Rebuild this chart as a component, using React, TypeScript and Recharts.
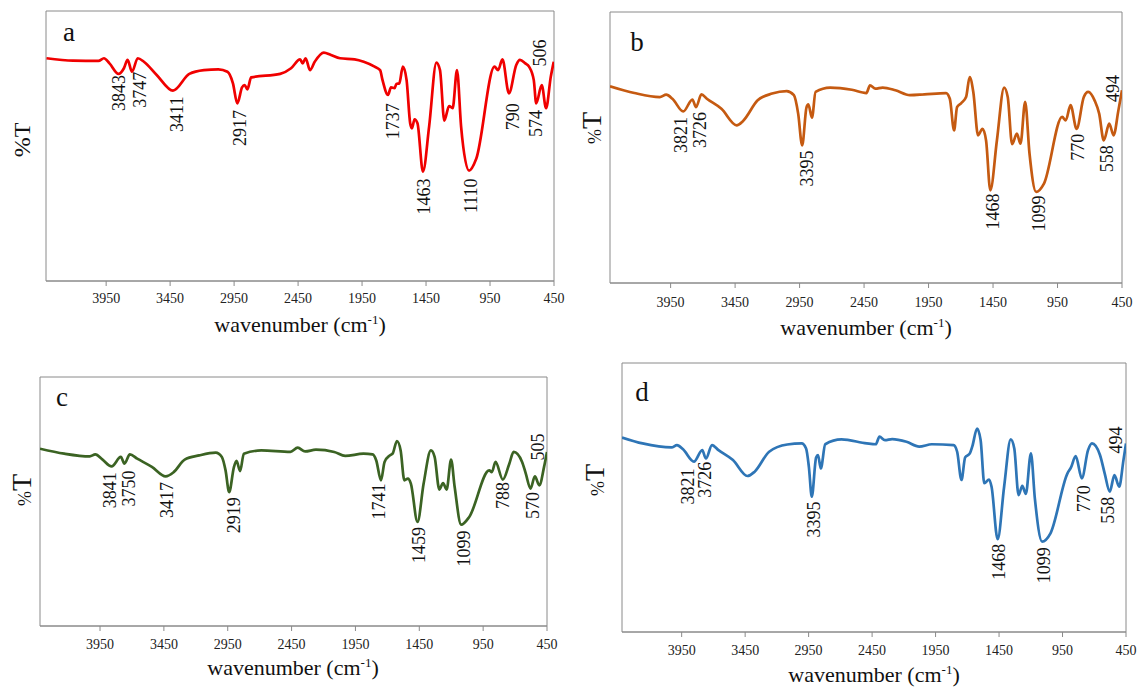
import React from 'react';
import { LineChart, Line, XAxis, YAxis, ReferenceArea, ReferenceDot } from 'recharts';

// wavenumber (cm-1), %T (relative units)
const specA: [number, number][] = [
  [4416,82.5],[4208,81.6],[4010,81.5],[3967,82.5],[3924,80.6],[3853,76.7],[3811,78.8],[3782,81.9],[3748,77.5],[3703,82.5],
  [3655,81.2],[3555,76.3],[3428,70.5],[3300,76.7],[3186,78.1],[3073,78.4],[3002,77.5],[2959,73.2],[2925,65.8],[2888,71.7],
  [2868,72.6],[2846,71.0],[2817,75.4],[2590,76.7],[2505,78.8],[2434,82.1],[2414,80.6],[2391,82.5],[2357,78.1],[2320,81.2],
  [2249,84.6],[2193,83.7],[2122,82.5],[2008,82.1],[1937,81.2],[1852,79.4],[1809,78.1],[1790,74.4],[1747,68.9],[1724,71.7],
  [1696,71.4],[1682,73.0],[1659,73.2],[1631,79.4],[1602,74.4],[1574,58.4],[1560,56.5],[1540,59.9],[1517,58.4],[1474,40.5],
  [1426,57.2],[1369,80.9],[1341,78.1],[1307,59.4],[1270,64.8],[1242,64.0],[1208,78.1],[1176,57.2],[1114,40.9],[1057,45.4],
  [915,79.4],[887,78.1],[853,82.1],[802,69.5],[745,80.0],[716,81.9],[674,80.6],[645,79.4],[608,74.4],[589,65.8],
  [546,72.6],[512,64.0],[475,75.7],[452,81.2],
];
const specB: [number, number][] = [
  [4420,72.6],[4231,70.1],[4034,68.6],[3984,69.5],[3936,68.0],[3852,63.3],[3781,67.7],[3753,64.9],[3711,69.6],[3669,68.0],
  [3556,64.3],[3438,58.2],[3388,59.8],[3275,67.4],[3163,69.9],[3050,70.8],[2994,69.3],[2961,62.5],[2930,50.8],[2896,64.9],
  [2882,65.9],[2854,61.0],[2826,70.5],[2713,72.1],[2545,71.3],[2432,70.1],[2404,72.9],[2362,71.7],[2306,72.1],[2207,71.1],
  [2095,69.3],[1982,69.6],[1814,70.1],[1785,68.0],[1752,56.3],[1729,64.9],[1696,66.4],[1659,68.6],[1631,76.0],[1603,70.5],
  [1566,54.5],[1532,56.9],[1504,52.6],[1471,34.2],[1420,52.6],[1364,72.1],[1336,68.6],[1302,51.2],[1265,55.1],[1237,51.4],
  [1201,66.8],[1167,47.7],[1116,33.6],[1055,36.7],[914,61.3],[886,60.0],[849,65.6],[802,56.9],[746,68.6],[712,70.5],
  [661,67.2],[627,62.5],[591,52.6],[549,58.8],[515,54.5],[478,63.7],[450,71.1],
];
const specC: [number, number][] = [
  [4420,71.2],[4230,69.2],[4030,68.1],[3987,68.9],[3930,66.8],[3859,64.1],[3787,67.9],[3759,65.2],[3716,68.9],[3659,67.2],
  [3544,63.9],[3436,60.1],[3373,61.8],[3287,66.8],[3173,68.5],[3044,69.6],[2996,67.9],[2967,62.5],[2939,53.8],[2901,63.9],
  [2881,66.3],[2853,62.2],[2824,69.2],[2687,70.5],[2459,69.9],[2402,71.6],[2344,70.1],[2259,70.8],[2116,69.9],[2030,68.3],
  [1887,69.2],[1816,68.9],[1787,66.5],[1750,58.5],[1722,65.9],[1681,68.5],[1659,69.2],[1625,74.3],[1596,70.5],[1567,58.5],
  [1539,59.2],[1516,57.2],[1464,41.8],[1416,57.2],[1359,70.5],[1330,67.9],[1293,54.8],[1264,57.4],[1236,54.8],[1201,66.8],
  [1173,55.8],[1122,40.7],[1059,43.8],[902,62.5],[882,61.8],[853,65.9],[796,58.8],[745,65.2],[711,69.9],[645,65.9],
  [616,61.2],[579,55.2],[545,60.1],[510,56.5],[473,63.9],[450,69.9],
];
const specD: [number, number][] = [
  [4420,72.3],[4258,70.1],[4030,68.6],[3987,69.5],[3939,67.9],[3853,63.3],[3788,67.6],[3759,64.5],[3711,69.5],[3660,67.6],
  [3546,63.9],[3432,58.0],[3375,59.6],[3261,67.0],[3118,69.7],[3005,70.1],[2970,68.2],[2948,61.4],[2925,50.3],[2891,64.9],
  [2876,65.8],[2854,60.8],[2819,69.8],[2691,71.6],[2492,70.1],[2421,69.8],[2392,72.6],[2349,71.3],[2292,71.7],[2179,70.7],
  [2079,68.9],[1979,69.8],[1808,69.5],[1780,67.0],[1746,56.5],[1717,64.9],[1680,66.4],[1660,69.1],[1623,75.6],[1595,71.3],
  [1566,55.3],[1529,56.7],[1509,54.0],[1461,34.5],[1410,54.0],[1358,71.6],[1330,68.2],[1296,50.9],[1267,54.3],[1239,51.3],
  [1199,66.4],[1168,49.7],[1111,33.6],[1045,36.7],[911,59.0],[883,61.2],[846,65.4],[798,57.1],[749,67.6],[718,70.1],
  [655,65.8],[618,59.0],[578,52.2],[541,58.3],[504,54.0],[470,63.9],[450,70.1],
];

// peak annotations: text, wavenumber, %T level, whether text goes up from that level
const peaksA: [string, number, number, boolean][] = [
  ['3843',3853,76.3,false],['3747',3689,77.5,false],['3411',3399,68.3,false],['2917',2902,63.3,false],
  ['1737',1710,65.8,false],['1463',1469,38.0,false],['1110',1100,38.0,false],['790',773,65.8,false],
  ['574',594,63.3,false],['506',560,79.4,true],
];
const peaksB: [string, number, number, boolean][] = [
  ['3821',3866,61.3,false],['3726',3720,63.1,false],['3395',2896,48.9,false],['1468',1454,33.0,false],
  ['1099',1097,32.3,false],['770',788,55.1,false],['558',563,50.8,false],['494',521,66.8,true],
];
const peaksC: [string, number, number, boolean][] = [
  ['3841',3873,61.8,false],['3750',3724,62.5,false],['3417',3424,57.8,false],['2919',2901,51.7,false],
  ['1741',1764,57.2,false],['1459',1453,39.8,false],['1099',1102,38.4,false],['788',793,57.8,false],
  ['570',559,53.8,false],['505',522,66.5,true],
];
const peaksD: [string, number, number, boolean][] = [
  ['3821',3902,60.8,false],['3726',3768,63.3,false],['3395',2905,48.5,false],['1468',1447,32.8,false],
  ['1099',1096,31.5,false],['770',777,54.6,false],['558',589,50.3,false],['494',532,66.4,true],
];

const xTicks = [3950, 3450, 2950, 2450, 1950, 1450, 950, 450];
const X_MIN = 450;
const X_MAX = 4420;

const SERIF = "'Liberation Serif', 'Times New Roman', serif";
const FRAME = '#8a8a8a';

type PanelProps = {
  spec: [number, number][];
  peaks: [string, number, number, boolean][];
  color: string;
  left: number; top: number; width: number; height: number;
  margin: { left: number; right: number; top: number; bottom: number };
  tickMargin: number;
};

function TickText(props: any) {
  const { x, y, payload } = props;
  return (
    <text x={x} y={y} dy="0.71em" textAnchor="middle" fill="#222" style={{ fontFamily: SERIF, fontSize: 14 }}>
      {payload.value}
    </text>
  );
}

function Panel(p: PanelProps) {
  const data = p.spec.map(([w, t]) => ({ w, t }));
  return (
    <div style={{ position: 'absolute', left: p.left, top: p.top }}>
      <LineChart width={p.width} height={p.height} data={data} margin={p.margin}>
        <XAxis
          dataKey="w" type="number" domain={[X_MIN, X_MAX]} reversed allowDataOverflow
          ticks={xTicks} interval={0} height={30} tickSize={5} tickMargin={p.tickMargin}
          tick={<TickText />}
          tickLine={{ stroke: FRAME }} axisLine={{ stroke: FRAME }}
        />
        <YAxis hide domain={[0, 100]} allowDataOverflow />
        <ReferenceArea x1={X_MIN} x2={X_MAX} y1={0} y2={100} fill="none" fillOpacity={0} stroke={FRAME} strokeWidth={1} ifOverflow="visible" />
        <Line type="monotone" dataKey="t" stroke={p.color} strokeWidth={2.7} dot={false} isAnimationActive={false} />
        {p.peaks.map(([txt, w, v, up]) => (
          <ReferenceDot
            key={txt + w} x={w} y={v} r={0} ifOverflow="visible"
            shape={(sp: any) => (
              <text
                x={sp.cx} y={sp.cy} transform={`rotate(-90 ${sp.cx} ${sp.cy})`}
                textAnchor={up ? 'start' : 'end'} dominantBaseline="central"
                fill="#111" style={{ fontFamily: SERIF, fontSize: 18 }}
              >{txt}</text>
            )}
          />
        ))}
      </LineChart>
    </div>
  );
}

const abs = (x: number, y: number, extra: React.CSSProperties = {}): React.CSSProperties => ({
  position: 'absolute', left: x, top: y, transform: 'translate(-50%, -50%)', whiteSpace: 'nowrap',
  fontFamily: SERIF, color: '#111', lineHeight: 1, ...extra,
});

function Title({ x, y }: { x: number; y: number }) {
  return (
    <div style={abs(x, y, { fontSize: 22 })}>
      wavenumber (cm<sup style={{ fontSize: 13, verticalAlign: 'super', lineHeight: 0 }}>-1</sup>)
    </div>
  );
}

function YLab({ x, y, small }: { x: number; y: number; small: boolean }) {
  return (
    <div style={abs(x, y, { transform: 'translate(-50%, -50%) rotate(-90deg)' })}>
      {small ? (
        <span><span style={{ fontSize: 18 }}>%</span><span style={{ fontSize: 28 }}>T</span></span>
      ) : (
        <span style={{ fontSize: 24 }}>%T</span>
      )}
    </div>
  );
}

export default function App() {
  return (
    <div style={{ position: 'absolute', left: 0, top: 0, width: 1137, height: 688, background: '#fff', overflow: 'hidden' }}>
      <Panel spec={specA} peaks={peaksA} color="#f00000" left={0} top={0} width={580} height={340}
        margin={{ left: 46, right: 26, top: 11, bottom: 29 }} tickMargin={7} />
      <Panel spec={specB} peaks={peaksB} color="#c55a11" left={570} top={0} width={567} height={340}
        margin={{ left: 40, right: 15, top: 12, bottom: 27 }} tickMargin={9} />
      <Panel spec={specC} peaks={peaksC} color="#3b6323" left={0} top={340} width={570} height={348}
        margin={{ left: 40, right: 23, top: 37, bottom: 32 }} tickMargin={8} />
      <Panel spec={specD} peaks={peaksD} color="#2e75b6" left={570} top={340} width={567} height={348}
        margin={{ left: 52, right: 11, top: 23, bottom: 26 }} tickMargin={8} />

      <div style={abs(69, 32, { fontSize: 27 })}>a</div>
      <div style={abs(637, 42, { fontSize: 27 })}>b</div>
      <div style={abs(62, 397, { fontSize: 27 })}>c</div>
      <div style={abs(642, 392, { fontSize: 27 })}>d</div>

      <YLab x={22} y={140} small={false} />
      <YLab x={592} y={128} small={true} />
      <YLab x={22} y={490} small={true} />
      <YLab x={595} y={480} small={true} />

      <Title x={300} y={325} />
      <Title x={866} y={328} />
      <Title x={293} y={668} />
      <Title x={874} y={675} />
    </div>
  );
}
